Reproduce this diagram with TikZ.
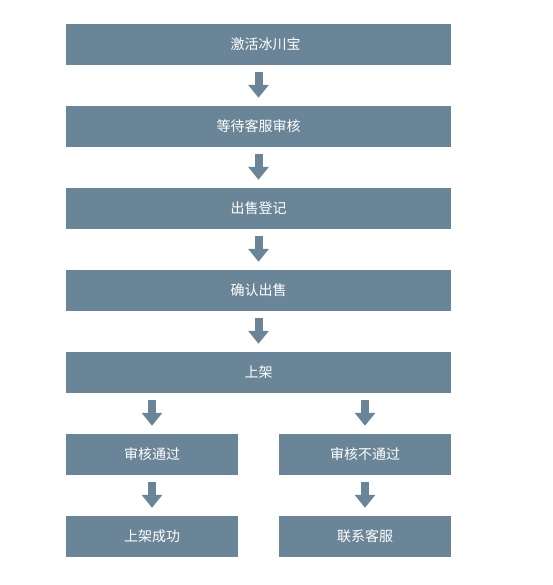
\documentclass[tikz,border=0pt]{standalone}
\usepackage{fontspec}
\setmainfont{Noto Sans CJK SC}
\usetikzlibrary{arrows.meta}
\definecolor{stepblue}{RGB}{106,133,151}
\tikzset{
  stepbox/.style={rectangle, fill=stepblue, text=white, inner sep=0pt,
    minimum height=41pt, font=\fontsize{14}{16}\selectfont},
  widebox/.style={stepbox, minimum width=385pt},
  halfbox/.style={stepbox, minimum width=172pt},
  flow/.style={draw=stepblue, line width=8pt, line cap=butt,
    -{Triangle[width=20pt,length=13pt]}, shorten <=7pt, shorten >=8pt}
}
\begin{document}
\begin{tikzpicture}[x=1pt,y=-1pt]
			\useasboundingbox (0,0) rectangle (552,585);
			\node[widebox] (activate) at (258.5,44.5) {\hspace*{14pt}激活冰川宝};
			\node[widebox] (wait) at (258.5,126.5) {等待客服审核};
			\node[widebox] (register) at (258.5,208.5) {出售登记};
			\node[widebox] (confirm) at (258.5,290.5) {确认出售};
			\node[widebox] (shelf) at (258.5,372.5) {上架};
			\node[halfbox] (pass) at (152,454.5) {审核通过};
			\node[halfbox] (fail) at (365,454.5) {审核不通过};
			\node[halfbox] (success) at (152,536.5) {上架成功};
			\node[halfbox] (contact) at (365,536.5) {联系客服};
			\draw[flow] (activate) -- (wait);
			\draw[flow] (wait) -- (register);
			\draw[flow] (register) -- (confirm);
			\draw[flow] (confirm) -- (shelf);
			\draw[flow] (shelf.south -| pass.north) -- (pass.north);
			\draw[flow] (shelf.south -| fail.north) -- (fail.north);
			\draw[flow] (pass) -- (success);
			\draw[flow] (fail) -- (contact);
		\end{tikzpicture}
\end{document}
